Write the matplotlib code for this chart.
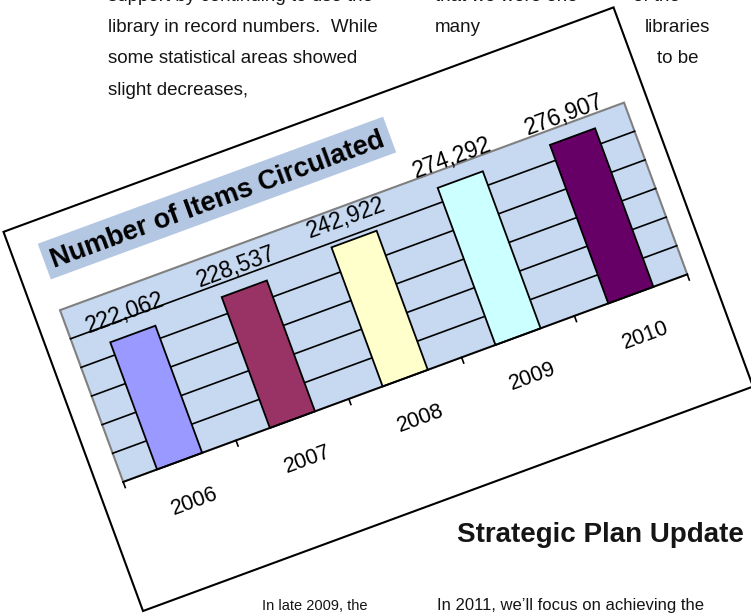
import numpy as np
import matplotlib
matplotlib.use("Agg")
import matplotlib.pyplot as plt
from matplotlib.patches import Rectangle
from matplotlib.transforms import Affine2D, Bbox, BboxTransform

# chart data
years = ["2006", "2007", "2008", "2009", "2010"]
items = [222062, 228537, 242922, 274292, 276907]
bar_colors = ["#9999FF", "#993366", "#FFFFCC", "#CCFFFF", "#660066"]
y_max = 300000
y_step = 50000
title = "Number of Items Circulated"

# newsletter text around the chart: (x, baseline y from top, text, size)
body_lines = [
    (108, 1, "support by continuing to use the", 13.5),
    (108, 32, "library in record numbers.  While", 13.5),
    (108, 63, "some statistical areas showed", 13.5),
    (108, 95, "slight decreases,", 13.5),
    (435, 1, "that we were one", 13.5),
    (633, 1, "of the", 13.5),
    (435, 32, "many", 13.5),
    (645, 32, "libraries", 13.5),
    (657, 63, "to be", 13.5),
    (262, 610, "In late 2009, the", 10.5),
    (437, 610, "In 2011, we\u2019ll focus on achieving the", 12),
]
heading = "Strategic Plan Update"

W, H = 751, 613
fig = plt.figure(figsize=(W / 100, H / 100), dpi=100)
ax = fig.add_axes([0, 0, 1, 1])
ax.set_xlim(0, W)
ax.set_ylim(0, H)
ax.axis("off")

body_font = "Liberation Sans"
for bx, by, s, fs in body_lines:
    ax.text(bx, H - by, s, ha="left", va="baseline", fontsize=fs,
            family=body_font, color="#151515", zorder=1)
ax.text(457, H - 542, heading, ha="left", va="baseline", fontsize=20,
        fontweight="bold", family=body_font, color="#151515", zorder=1)

# the chart card is tilted on the page
ANGLE = 20.2
card = Affine2D().rotate_deg(ANGLE).translate(143, 2) + ax.transData
plot_box = Bbox([[26, 128], [627, 311]])
n = len(years)
data = BboxTransform(Bbox([[-0.5, 0], [n - 0.5, y_max]]), plot_box) + card
px = y_max / plot_box.height  # data units per card pixel

ax.add_patch(Rectangle((0, 0), 650, 404, transform=card, facecolor="white",
                       edgecolor="black", linewidth=1.5, zorder=2))

# title
ax.add_patch(Rectangle((28, 343), 368, 38, transform=card,
                       facecolor="#B4C7E2", edgecolor="none", zorder=3))
ax.text(212, 360, title, transform=card, rotation=ANGLE, rotation_mode="anchor",
        ha="center", va="center", fontsize=19.5, fontweight="bold",
        family="Liberation Sans", zorder=4)

# plot area
ax.add_patch(Rectangle((-0.5, 0), n, y_max, transform=data, facecolor="#C6D9F0",
                       edgecolor="#808080", linewidth=1.5, zorder=3))
for g in range(y_step, y_max, y_step):
    ax.plot([-0.5, n - 0.5], [g, g], transform=data, color="black", lw=1.2, zorder=4)

x = np.arange(n)
ax.bar(x, items, width=0.4, color=bar_colors, edgecolor="black", linewidth=1.3,
       transform=data, zorder=5)

ax.plot([-0.5, n - 0.5], [0, 0], transform=data, color="black", lw=1.3, zorder=6)
for b in np.arange(-0.5, n, 1.0):
    ax.plot([b, b], [0, -6 * px], transform=data, color="black", lw=1.2, zorder=6)

for xi, v, yr in zip(x, items, years):
    ax.text(xi, v + 23 * px, f"{v:,}", transform=data, rotation=ANGLE,
            rotation_mode="anchor", ha="center", va="center", fontsize=16.5,
            family="Liberation Sans", zorder=7)
    ax.text(xi, -43 * px, yr, transform=data, rotation=ANGLE,
            rotation_mode="anchor", ha="center", va="center", fontsize=15.5,
            family="Liberation Sans", zorder=7)

ax.set_xlim(0, W)
ax.set_ylim(0, H)
fig.savefig("out.png", dpi=100)
